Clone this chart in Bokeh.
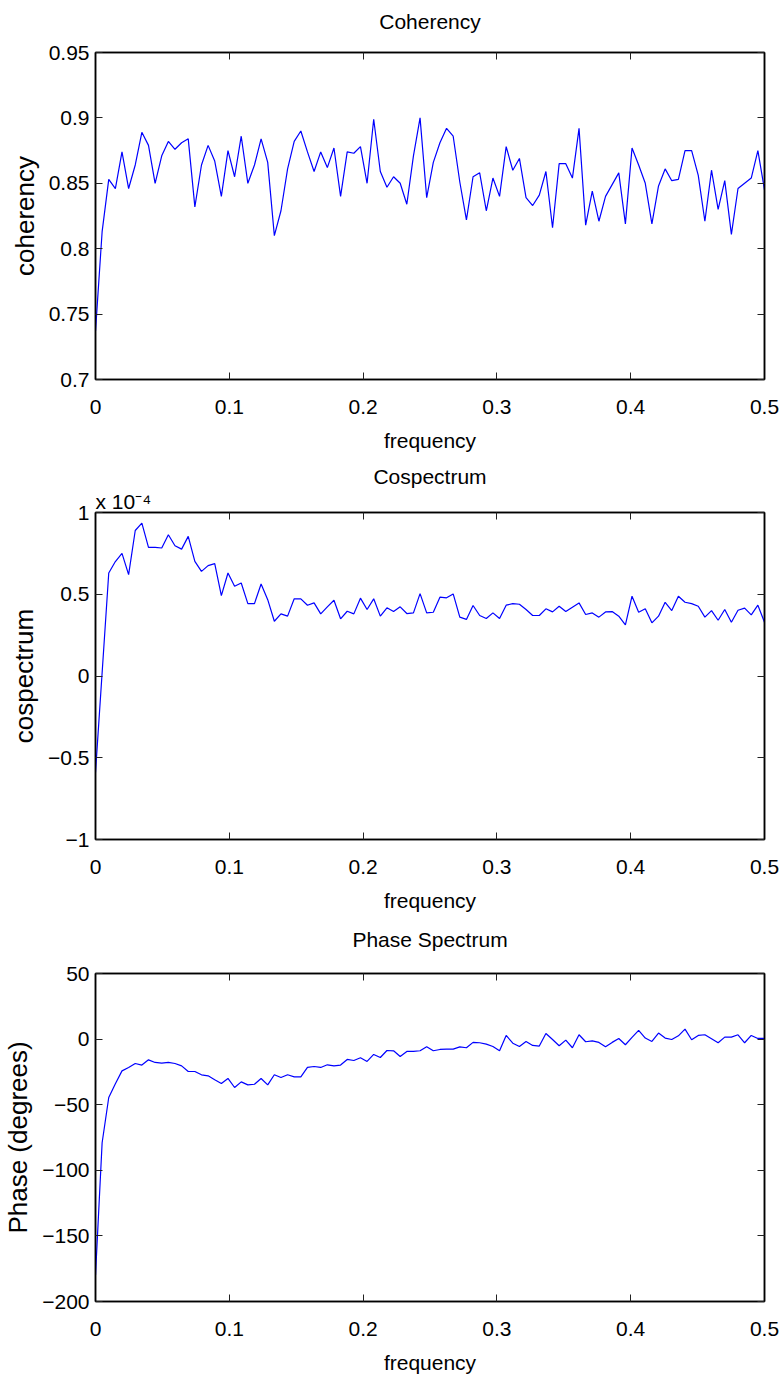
from bokeh.plotting import figure
from bokeh.layouts import column
from bokeh.models import Range1d, FixedTicker, LinearAxis, CustomJSTickFormatter, Title
from bokeh.embed import file_html
from bokeh.resources import INLINE

# ---------------- data ----------------
N_INTERVALS = 101
frequency = [k * 0.5 / N_INTERVALS for k in range(N_INTERVALS + 1)]

coherency = [
    0.737, 0.813, 0.853, 0.846, 0.874, 0.846, 0.864, 0.889, 0.879, 0.850,
    0.871, 0.882, 0.876, 0.881, 0.884, 0.832, 0.864, 0.879, 0.867, 0.840,
    0.875, 0.855, 0.886, 0.850, 0.864, 0.884, 0.866, 0.810, 0.829, 0.861,
    0.882, 0.890, 0.874, 0.859, 0.874, 0.862, 0.877, 0.840, 0.874, 0.873,
    0.878, 0.850, 0.899, 0.859, 0.847, 0.855, 0.850, 0.834, 0.871, 0.900,
    0.839, 0.866, 0.881, 0.892, 0.886, 0.851, 0.822, 0.855, 0.858, 0.829,
    0.854, 0.840, 0.878, 0.860, 0.869, 0.839, 0.833, 0.841, 0.859, 0.816,
    0.865, 0.865, 0.854, 0.892, 0.818, 0.844, 0.821, 0.840, 0.849, 0.858,
    0.819, 0.877, 0.864, 0.850, 0.819, 0.848, 0.861, 0.852, 0.853, 0.875,
    0.875, 0.856, 0.821, 0.860, 0.830, 0.852, 0.811, 0.846, 0.850, 0.854,
    0.875, 0.845,
]

# cospectrum in units of 1e-4 (axis shows "x 10^-4")
cospectrum = [
    -0.59, 0.02, 0.63, 0.70, 0.75, 0.62, 0.89, 0.935, 0.787, 0.787,
    0.783, 0.864, 0.797, 0.776, 0.854, 0.701, 0.640, 0.675, 0.687, 0.492,
    0.630, 0.549, 0.569, 0.443, 0.443, 0.563, 0.467, 0.335, 0.380, 0.366,
    0.472, 0.472, 0.433, 0.447, 0.380, 0.423, 0.463, 0.350, 0.396, 0.380,
    0.476, 0.407, 0.472, 0.366, 0.417, 0.394, 0.423, 0.382, 0.386, 0.504,
    0.386, 0.390, 0.482, 0.478, 0.502, 0.360, 0.346, 0.431, 0.370, 0.352,
    0.386, 0.352, 0.433, 0.443, 0.439, 0.407, 0.370, 0.370, 0.411, 0.392,
    0.427, 0.394, 0.421, 0.447, 0.376, 0.386, 0.360, 0.392, 0.394, 0.366,
    0.313, 0.488, 0.390, 0.411, 0.325, 0.366, 0.451, 0.400, 0.488, 0.451,
    0.443, 0.427, 0.360, 0.400, 0.341, 0.407, 0.329, 0.402, 0.415, 0.374,
    0.433, 0.329,
]

phase = [
    -180.0, -79.0, -44.5, -34.0, -24.2, -21.6, -18.6, -19.8, -15.8, -17.8,
    -18.3, -17.8, -18.6, -20.4, -24.7, -24.7, -27.2, -28.0, -31.0, -33.8,
    -30.0, -36.9, -32.6, -34.9, -34.4, -30.0, -34.9, -27.2, -29.3, -27.2,
    -28.8, -28.8, -21.6, -20.9, -21.6, -19.6, -20.4, -19.8, -15.5, -16.3,
    -14.2, -17.0, -11.7, -14.0, -8.7, -8.9, -13.2, -9.4, -9.4, -8.9,
    -5.8, -8.9, -7.9, -7.6, -7.6, -5.9, -6.6, -2.5, -2.8, -3.8,
    -5.6, -8.9, 2.8, -3.1, -5.6, -1.8, -4.8, -5.3, 4.3, -0.3,
    -5.1, -0.8, -6.6, 3.3, -2.0, -1.3, -2.5, -5.9, -2.5, 0.5,
    -4.3, 1.3, 6.6, 0.8, -1.8, 4.6, 0.8, -0.3, 2.5, 7.6,
    -0.5, 2.8, 3.3, 0.3, -2.8, 1.5, 1.5, 3.3, -2.8, 2.8,
    0.5, 0.5,
]

freq_ticks = [0, 0.1, 0.2, 0.3, 0.4, 0.5]
coh_ticks = [0.7, 0.75, 0.8, 0.85, 0.9, 0.95]
cos_ticks = [-1, -0.5, 0, 0.5, 1]
phase_ticks = [-200, -150, -100, -50, 0, 50]
cos_exponent = "x 10\u207b\u2074"

# ---------------- styling ----------------
HFONT = "Liberation Sans"
FS = "21px"
YL_FS = "26px"
LINE_COLOR = "#0000ff"

FMT_CODE = """
const v = Math.round(tick * 10000) / 10000;
if (v < 0) { return '\\u2212' + String(-v); }
return String(v);
"""


def style_axis(ax, ticks, labels=True):
    ax.ticker = FixedTicker(ticks=ticks)
    ax.formatter = CustomJSTickFormatter(code=FMT_CODE)
    ax.major_tick_in = 7
    ax.major_tick_out = 0
    ax.minor_tick_in = 0
    ax.minor_tick_out = 0
    ax.major_tick_line_color = "#222222"
    ax.major_tick_line_width = 1
    ax.axis_line_color = "black"
    ax.axis_line_width = 1.5
    if labels:
        ax.major_label_text_font = HFONT
        ax.major_label_text_font_size = FS
        ax.major_label_text_color = "black"
    else:
        ax.major_label_text_font_size = "1px"
        ax.major_label_text_color = None
        ax.major_label_standoff = 0


def make_panel(title, ylabel, ydata, yrange, yticks, top, bottom, title_gap, exponent=None):
    p = figure(width=783, height=460,
               x_range=Range1d(0, 0.5), y_range=Range1d(*yrange),
               output_backend="svg", toolbar_location=None,
               min_border_left=93, min_border_right=19,
               min_border_top=top, min_border_bottom=bottom,
               x_axis_label="frequency", y_axis_label=ylabel)
    p.xgrid.visible = False
    p.ygrid.visible = False
    p.outline_line_color = "black"
    p.outline_line_width = 1.5
    p.background_fill_color = "white"
    p.border_fill_color = "white"

    for ax in p.xaxis:
        style_axis(ax, freq_ticks)
        ax.major_label_standoff = 20
        ax.axis_label_standoff = 12
        ax.axis_label_text_font = HFONT
        ax.axis_label_text_font_size = FS
        ax.axis_label_text_font_style = "normal"
        ax.axis_label_text_color = "black"
    for ax in p.yaxis:
        style_axis(ax, yticks)
        ax.major_label_standoff = 6
        ax.axis_label_standoff = 6
        ax.axis_label_text_font = HFONT
        ax.axis_label_text_font_size = YL_FS
        ax.axis_label_text_font_style = "normal"
        ax.axis_label_text_color = "black"

    # box ticks on top / right (no tick labels)
    top_ax = LinearAxis()
    style_axis(top_ax, freq_ticks, labels=False)
    p.add_layout(top_ax, "above")
    right_ax = LinearAxis()
    style_axis(right_ax, yticks, labels=False)
    p.add_layout(right_ax, "right")

    if exponent is None:
        # panel title carried by the top axis label (centred over the frame)
        top_ax.axis_label = title
        top_ax.axis_label_standoff = title_gap
        top_ax.axis_label_text_font = HFONT
        top_ax.axis_label_text_font_size = FS
        top_ax.axis_label_text_font_style = "normal"
        top_ax.axis_label_text_color = "black"
    else:
        p.add_layout(Title(text=exponent, align="left", offset=0, standoff=0,
                           text_font=HFONT, text_font_size=FS,
                           text_font_style="normal", text_color="black"), "above")
        p.add_layout(Title(text=title, align="center", standoff=0,
                           text_font=HFONT, text_font_size=FS,
                           text_font_style="normal", text_color="black"), "above")

    p.line(frequency, ydata, line_color=LINE_COLOR, line_width=1.2)
    return p


p1 = make_panel("Coherency", "coherency", coherency, (0.7, 0.95), coh_ticks, 52, 81, 20)
p2 = make_panel("Cospectrum", "cospectrum", cospectrum, (-1, 1), cos_ticks, 52, 81, 0,
                exponent=cos_exponent)
p3 = make_panel("Phase Spectrum", "Phase (degrees)", phase, (-200, 50), phase_ticks, 53, 79, 23)

layout = column(p1, p2, p3, spacing=0)

with open("out.html", "w") as f:
    f.write(file_html(layout, INLINE))
